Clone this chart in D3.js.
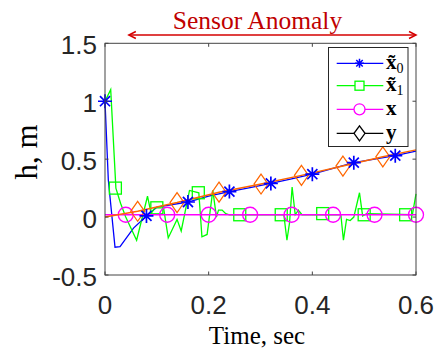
<!DOCTYPE html>
<html>
<head>
<meta charset="utf-8">
<script src="https://cdn.jsdelivr.net/npm/d3@7"></script>
<style>
  html, body { margin: 0; padding: 0; background: #fff; }
  svg { display: block; }
</style>
</head>
<body>
<svg id="chart" width="437" height="354"></svg>
<script>
// Estimated state x~0 (blue, star markers)
const est0Time = [0, 0.0064, 0.0193, 0.029, 0.055, 0.08, 0.1, 0.16, 0.2, 0.24, 0.28, 0.32, 0.36, 0.40, 0.44, 0.48, 0.52, 0.56, 0.6];
const est0Vals = [1, 0.32, -0.26, -0.255, -0.095, 0.01, 0.085, 0.13, 0.18, 0.22, 0.255, 0.29, 0.33, 0.37, 0.42, 0.47, 0.50, 0.53, 0.57];
const est0MarkTime = [0, 0.08, 0.16, 0.24, 0.32, 0.40, 0.48, 0.56];

// Estimated state x~1 (green, square markers)
const est1Time = [0, 0.011, 0.021, 0.03, 0.04, 0.061, 0.082, 0.089, 0.096, 0.113, 0.122, 0.139, 0.147, 0.163, 0.181, 0.187, 0.197, 0.208, 0.215, 0.219, 0.226, 0.233, 0.24, 0.345, 0.351, 0.356, 0.361, 0.367, 0.373, 0.38, 0.455, 0.46, 0.466, 0.473, 0.48, 0.491, 0.497, 0.505, 0.593, 0.6];
const est1Vals = [1.0, 1.1, 0.25, 0.12, 0.0, -0.2, 0.18, 0.03, 0.08, 0.08, -0.18, -0.02, -0.12, 0.23, 0.21, -0.17, -0.15, 0.23, 0.0, 0.06, 0.06, 0.03, 0.02, 0.02, -0.2, -0.05, 0.26, 0.02, 0.06, 0.02, 0.02, -0.2, -0.02, -0.03, 0.0, 0.21, 0.01, 0.03, 0.02, 0.2];
const est1MarkTime = [0.02, 0.10, 0.18, 0.26, 0.34, 0.42, 0.50, 0.58];
const est1MarkVals = [0.25, 0.08, 0.21, 0.02, 0.02, 0.03, 0.02, 0.02];

// True state x (magenta, circle markers)
const stateTime = [0, 0.04, 0.12, 0.20, 0.28, 0.36, 0.44, 0.52, 0.6];
const stateVals = [0.02, 0.02, 0.02, 0.02, 0.02, 0.02, 0.02, 0.02, 0.02];

// Measurement y (orange, diamond markers)
const measTime = [0, 0.063, 0.139, 0.220, 0.301, 0.379, 0.459, 0.536, 0.6];
const measVals = [0, 0.05, 0.125, 0.215, 0.285, 0.36, 0.44, 0.52, 0.58];

const xTicks = [0, 0.2, 0.4, 0.6];
const xTickLabels = ["0", "0.2", "0.4", "0.6"];
const yTicks = [-0.5, 0, 0.5, 1, 1.5];
const yTickLabels = ["-0.5", "0", "0.5", "1", "1.5"];

const anomalySpan = [0.046, 0.6];
const legendLabels = ["x̃", "x̃", "x", "y"];
const legendSubs = ["0", "1", "", ""];

const svg = d3.select("#chart");
const L = 105, R = 416, T = 43.3, B = 275;
const x = d3.scaleLinear().domain([0, 0.6]).range([L, R]);
const y = d3.scaleLinear().domain([-0.5, 1.5]).range([B, T]);

const C = { blue: "#0000ff", green: "#00ff00", mag: "#ff00ff", orange: "#ff6600", red: "#d40000", axis: "#444" };

const plot = svg.append("g");

const line = d3.line().x(d => x(d[0])).y(d => y(d[1]));
const zip = (a, b) => a.map((t, i) => [t, b[i]]);

const starPath = s => `M${-s},0L${s},0M0,${-s}L0,${s}M${-s*0.72},${-s*0.72}L${s*0.72},${s*0.72}M${-s*0.72},${s*0.72}L${s*0.72},${-s*0.72}`;
const diamondPath = (w, h) => `M0,${-h}L${w},0L0,${h}L${-w},0Z`;

const g = plot.append("g");
// series lines and markers
g.append("path").attr("d", line(zip(est0Time, est0Vals))).attr("fill", "none").attr("stroke", C.blue).attr("stroke-width", 1.3);
g.append("path").attr("d", line(zip(est1Time, est1Vals))).attr("fill", "none").attr("stroke", C.green).attr("stroke-width", 1.3);
g.selectAll(".sq").data(zip(est1MarkTime, est1MarkVals)).join("rect")
  .attr("x", d => x(d[0]) - 6).attr("y", d => y(d[1]) - 6).attr("width", 12).attr("height", 12)
  .attr("fill", "none").attr("stroke", C.green).attr("stroke-width", 1.3);
g.append("path").attr("d", line(zip(stateTime, stateVals))).attr("fill", "none").attr("stroke", C.mag).attr("stroke-width", 1.3);
g.selectAll(".ci").data(zip(stateTime, stateVals).slice(1)).join("circle")
  .attr("cx", d => x(d[0])).attr("cy", d => y(d[1])).attr("r", 7.5)
  .attr("fill", "none").attr("stroke", C.mag).attr("stroke-width", 1.3);
g.append("path").attr("d", line(zip(measTime, measVals))).attr("fill", "none").attr("stroke", C.orange).attr("stroke-width", 1.5);
g.selectAll(".di").data(zip(measTime, measVals).slice(1, -1)).join("path")
  .attr("transform", d => `translate(${x(d[0])},${y(d[1])})`)
  .attr("d", diamondPath(7, 10)).attr("fill", "none").attr("stroke", C.orange).attr("stroke-width", 1.2);
const interp0 = t => { const i = d3.bisectLeft(est0Time, t); if (est0Time[i] === t) return est0Vals[i];
  const t0 = est0Time[i-1], t1 = est0Time[i]; return est0Vals[i-1] + (est0Vals[i]-est0Vals[i-1])*(t-t0)/(t1-t0); };
g.selectAll(".st").data(est0MarkTime).join("path")
  .attr("transform", t => `translate(${x(t)},${y(interp0(t))})`)
  .attr("d", starPath(7)).attr("fill", "none").attr("stroke", C.blue).attr("stroke-width", 1.7);

// axes box and ticks
const ax = svg.append("g").attr("stroke", C.axis).attr("stroke-width", 1).attr("fill", "none");
ax.append("rect").attr("x", L).attr("y", T).attr("width", R - L).attr("height", B - T);
xTicks.forEach(t => {
  ax.append("line").attr("x1", x(t)).attr("x2", x(t)).attr("y1", B).attr("y2", B - 3.5);
  ax.append("line").attr("x1", x(t)).attr("x2", x(t)).attr("y1", T).attr("y2", T + 3.5);
});
yTicks.forEach(t => {
  ax.append("line").attr("y1", y(t)).attr("y2", y(t)).attr("x1", L).attr("x2", L + 3.5);
  ax.append("line").attr("y1", y(t)).attr("y2", y(t)).attr("x1", R).attr("x2", R - 3.5);
});

const tl = svg.append("g").attr("font-family", "Liberation Sans, Arial, sans-serif").attr("font-size", 26).attr("fill", "#262626");
xTicks.forEach((t, i) => tl.append("text").attr("x", x(t)).attr("y", 314).attr("text-anchor", "middle").text(xTickLabels[i]));
yTicks.forEach((t, i) => tl.append("text").attr("x", 97).attr("y", y(t) + 10.5).attr("text-anchor", "end").text(yTickLabels[i]));

// axis titles
svg.append("text").attr("x", 257).attr("y", 344).attr("text-anchor", "middle")
  .attr("font-family", "Liberation Serif, Times New Roman, serif").attr("font-size", 25).attr("fill", "#000").text("Time, sec");
svg.append("text").attr("transform", "translate(37,152) rotate(-90)").attr("text-anchor", "middle")
  .attr("font-family", "Liberation Serif, Times New Roman, serif").attr("font-size", 31).attr("fill", "#000").text("h, m");

// anomaly annotation
const an = svg.append("g").attr("stroke", C.red).attr("stroke-width", 1.5).attr("fill", "none");
const ay = 35, a0 = x(anomalySpan[0]), a1 = x(anomalySpan[1]);
an.append("line").attr("x1", a0).attr("x2", a1).attr("y1", ay).attr("y2", ay);
an.append("path").attr("d", `M${a0+7},${ay-3.5}L${a0},${ay}L${a0+7},${ay+3.5}`);
an.append("path").attr("d", `M${a1-7},${ay-3.5}L${a1},${ay}L${a1-7},${ay+3.5}`);
svg.append("text").attr("x", 257.5).attr("y", 28.5).attr("text-anchor", "middle")
  .attr("font-family", "Liberation Serif, Times New Roman, serif").attr("font-size", 25.5).attr("fill", "#c00000").text("Sensor Anomaly");

// legend
const lg = svg.append("g");
lg.append("rect").attr("x", 328.5).attr("y", 47.5).attr("width", 79.5).attr("height", 99)
  .attr("fill", "#fff").attr("stroke", "#262626").attr("stroke-width", 1);
const legColors = [C.blue, C.green, C.mag, "#000"];
const rowY = [63.3, 85.7, 109.3, 133.3];
const lx0 = 336.7, lx1 = 383.3, lm = 359.5;
rowY.forEach((ry, i) => {
  lg.append("line").attr("x1", lx0).attr("x2", lx1).attr("y1", ry).attr("y2", ry).attr("stroke", legColors[i]).attr("stroke-width", 1.3);
  const m = lg.append("g").attr("transform", `translate(${lm},${ry})`).attr("fill", "none").attr("stroke", legColors[i]).attr("stroke-width", 1.3);
  if (i === 0) m.append("path").attr("d", starPath(4.5)).attr("stroke-width", 1.5);
  if (i === 1) m.append("rect").attr("x", -4.5).attr("y", -4.5).attr("width", 9).attr("height", 9).attr("fill", "#fff");
  if (i === 2) m.append("circle").attr("r", 5.5).attr("fill", "#fff");
  if (i === 3) m.append("path").attr("d", diamondPath(5.5, 7.5)).attr("fill", "#fff");
  const tx = lg.append("text").attr("x", 386).attr("y", ry + 5.5)
    .attr("font-family", "Liberation Serif, Times New Roman, serif").attr("font-size", 21).attr("fill", "#000");
  tx.append("tspan").attr("font-weight", "bold").text(legendLabels[i]);
  if (legendSubs[i]) tx.append("tspan").attr("font-size", 14).attr("dy", 4).text(legendSubs[i]);
});
</script>
</body>
</html>
